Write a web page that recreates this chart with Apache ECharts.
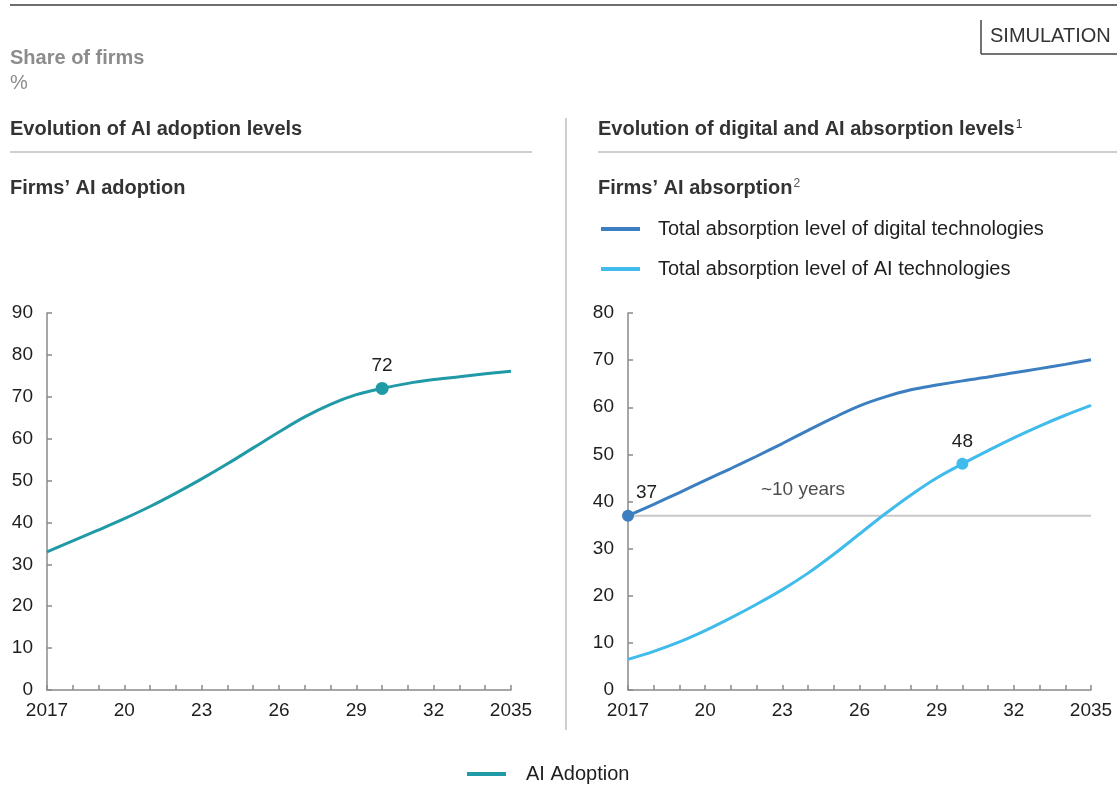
<!DOCTYPE html>
<html>
<head>
<meta charset="utf-8">
<script src="https://cdn.jsdelivr.net/npm/echarts@6/dist/echarts.min.js"></script>
<style>
  html, body { margin: 0; padding: 0; background: #ffffff; }
  #chart { width: 1120px; height: 800px; }
</style>
</head>
<body>
<div id="chart"></div>
<script>
// Years on the horizontal axis of both panels
const years = [2017, 2018, 2019, 2020, 2021, 2022, 2023, 2024, 2025, 2026,
               2027, 2028, 2029, 2030, 2031, 2032, 2033, 2034, 2035];
// Years that carry a tick label, and the text shown for them
const labelYears = [2017, 2020, 2023, 2026, 2029, 2032, 2035];
const labelTexts = ['2017', '20', '23', '26', '29', '32', '2035'];

// Share of firms adopting AI, %
const aiAdoption = [33.0, 35.6, 38.2, 40.9, 43.8, 47.0, 50.4, 54.0, 57.8, 61.6,
                    65.2, 68.2, 70.5, 72.0, 73.2, 74.1, 74.8, 75.5, 76.1];
// Total absorption level of digital technologies, %
const digitalAbsorption = [37.0, 39.4, 41.9, 44.5, 47.0, 49.6, 52.3, 55.1, 57.8, 60.3,
                           62.2, 63.7, 64.7, 65.6, 66.4, 67.3, 68.2, 69.1, 70.1];
// Total absorption level of AI technologies, %
const aiAbsorption = [6.5, 8.2, 10.2, 12.6, 15.3, 18.2, 21.3, 24.8, 28.8, 33.1,
                      37.4, 41.4, 45.0, 48.0, 50.8, 53.5, 56.0, 58.3, 60.4];

// Highlighted points
const adoptionMarkYear = 2030;
const digitalMarkYear = 2017;
const aiMarkYear = 2030;
// Reference level (digital absorption in 2017) and its annotation
const referenceLevel = 37;
const gapText = '~10 years';
const gapTextPos = [2023.8, 42.4];

const NAME_ADOPT = 'AI Adoption';
const NAME_DIGITAL = 'Total absorption level of digital technologies';
const NAME_AI = 'Total absorption level of AI technologies';

const C_TEAL = '#1f9aa6';
const C_DIGITAL = '#3b7fc1';
const C_AI = '#3fbcec';
const C_TEXT = '#1e1e1e';
const C_AXIS = '#8a8a8a';
const FONT = '"Liberation Sans", Arial, Helvetica, sans-serif';
const FS = 19;
const FS_LEGEND = 20;

const pairs = arr => years.map((y, i) => [y, arr[i]]);
const valueAt = (arr, yr) => arr[years.indexOf(yr)];

function xAxisFor(gridIndex) {
  return {
    type: 'value', gridIndex, min: 2017, max: 2035, interval: 1,
    axisLine: { lineStyle: { color: C_AXIS, width: 1.5 } },
    axisTick: { inside: true, length: 5, lineStyle: { color: C_AXIS, width: 1.5 } },
    splitLine: { show: false },
    axisLabel: {
      color: C_TEXT, fontSize: FS, fontFamily: FONT, margin: 11,
      formatter: v => {
        const k = labelYears.indexOf(v);
        return k >= 0 ? labelTexts[k] : '';
      }
    }
  };
}
function yAxisFor(gridIndex, max) {
  return {
    type: 'value', gridIndex, min: 0, max, interval: 10,
    axisLine: { show: true, lineStyle: { color: C_AXIS, width: 1.5 } },
    axisTick: { show: true, inside: true, length: 5, lineStyle: { color: C_AXIS, width: 1.5 } },
    splitLine: { show: false },
    axisLabel: { color: C_TEXT, fontSize: FS, fontFamily: FONT, margin: 14 }
  };
}

const headText = (x, y, text, opts) => ({
  type: 'text', left: x, top: y,
  style: Object.assign({ text, font: 'bold 20px ' + FONT, fill: '#333333' }, opts || {})
});
const hLine = (x1, x2, y, color, w) => ({
  type: 'line', shape: { x1, y1: y, x2, y2: y }, style: { stroke: color, lineWidth: w }
});
const vLine = (x, y1, y2, color, w) => ({
  type: 'line', shape: { x1: x, y1, x2: x, y2 }, style: { stroke: color, lineWidth: w }
});

const markLabel = (position, distance, offset) => ({
  show: true, position, distance, offset, color: C_TEXT, fontSize: FS, fontFamily: FONT,
  formatter: p => Math.round(p.value[1])
});

const chart = echarts.init(document.getElementById('chart'));
chart.setOption({
  backgroundColor: '#ffffff',
  animation: false,
  textStyle: { fontFamily: FONT },
  grid: [
    { left: 47, right: 609, top: 313, bottom: 110 },
    { left: 628, right: 29, top: 313, bottom: 110 }
  ],
  xAxis: [xAxisFor(0), xAxisFor(1)],
  yAxis: [yAxisFor(0, 90), yAxisFor(1, 80)],
  legend: [
    {
      data: [NAME_ADOPT], left: 467, top: 764, padding: 0, icon: 'rect',
      itemWidth: 39, itemHeight: 4, itemGap: 20,
      textStyle: { fontSize: FS_LEGEND, color: C_TEXT, fontFamily: FONT, padding: [0, 0, 0, 15] }
    },
    {
      data: [NAME_DIGITAL, NAME_AI], orient: 'vertical', left: 601, top: 219, padding: 0,
      icon: 'rect', itemWidth: 39, itemHeight: 4, itemGap: 20,
      textStyle: { fontSize: FS_LEGEND, color: C_TEXT, fontFamily: FONT, padding: [0, 0, 0, 13] }
    }
  ],
  graphic: [
    hLine(10, 1117, 5, '#6e6e6e', 2),
    vLine(981, 20, 54, '#444444', 1.5),
    hLine(981, 1117, 54, '#444444', 1.5),
    headText(990, 26, 'SIMULATION', { font: '20px ' + FONT, fill: '#333333' }),
    headText(10, 48, 'Share of firms', { fill: '#8c8c8c' }),
    headText(10, 73, '%', { font: '20px ' + FONT, fill: '#8c8c8c' }),
    headText(10, 119, 'Evolution of AI adoption levels'),
    hLine(10, 532, 152, '#cfcfcf', 2),
    {
      type: 'text', left: 598, top: 119,
      style: {
        text: '{b|Evolution of digital and AI absorption levels}{s|1}',
        rich: {
          b: { font: 'bold 20px ' + FONT, fill: '#333333' },
          s: { font: '12px ' + FONT, fill: '#333333', verticalAlign: 'top', padding: [0, 0, 7, 1] }
        }
      }
    },
    hLine(598, 1117, 152, '#cfcfcf', 2),
    vLine(566, 118, 730, '#cfcfcf', 2),
    headText(10, 178, 'Firms\u2019 AI adoption'),
    {
      type: 'text', left: 598, top: 178,
      style: {
        text: '{b|Firms\u2019 AI absorption}{s|2}',
        rich: {
          b: { font: 'bold 20px ' + FONT, fill: '#333333' },
          s: { font: '12px ' + FONT, fill: '#555555', verticalAlign: 'top', padding: [0, 0, 7, 1] }
        }
      }
    }
  ],
  series: [
    {
      name: NAME_ADOPT, type: 'line', xAxisIndex: 0, yAxisIndex: 0,
      data: pairs(aiAdoption), smooth: 0.35, showSymbol: false,
      lineStyle: { color: C_TEAL, width: 3 }, itemStyle: { color: C_TEAL }
    },
    {
      type: 'scatter', xAxisIndex: 0, yAxisIndex: 0, symbolSize: 13,
      data: [[adoptionMarkYear, valueAt(aiAdoption, adoptionMarkYear)]],
      itemStyle: { color: C_TEAL, opacity: 1 },
      label: markLabel('top', 7)
    },
    {
      type: 'line', xAxisIndex: 1, yAxisIndex: 1, z: 1,
      data: [[2017, referenceLevel], [2035, referenceLevel]],
      showSymbol: false, silent: true,
      lineStyle: { color: '#c8c8c8', width: 2 }
    },
    {
      name: NAME_DIGITAL, type: 'line', xAxisIndex: 1, yAxisIndex: 1,
      data: pairs(digitalAbsorption), smooth: 0.35, showSymbol: false,
      lineStyle: { color: C_DIGITAL, width: 3 }, itemStyle: { color: C_DIGITAL }
    },
    {
      name: NAME_AI, type: 'line', xAxisIndex: 1, yAxisIndex: 1,
      data: pairs(aiAbsorption), smooth: 0.35, showSymbol: false,
      lineStyle: { color: C_AI, width: 3 }, itemStyle: { color: C_AI }
    },
    {
      type: 'scatter', xAxisIndex: 1, yAxisIndex: 1, symbolSize: 12,
      data: [[digitalMarkYear, valueAt(digitalAbsorption, digitalMarkYear)]],
      itemStyle: { color: C_DIGITAL, opacity: 1 },
      label: markLabel('right', 2, [0, -23])
    },
    {
      type: 'scatter', xAxisIndex: 1, yAxisIndex: 1, symbolSize: 12,
      data: [[aiMarkYear, valueAt(aiAbsorption, aiMarkYear)]],
      itemStyle: { color: C_AI, opacity: 1 },
      label: markLabel('top', 7)
    },
    {
      type: 'scatter', xAxisIndex: 1, yAxisIndex: 1, symbolSize: 0, silent: true,
      data: [gapTextPos],
      label: { show: true, position: 'inside', color: C_TEXT, fontSize: FS, fontFamily: FONT, formatter: gapText }
    }
  ]
});
</script>
</body>
</html>
